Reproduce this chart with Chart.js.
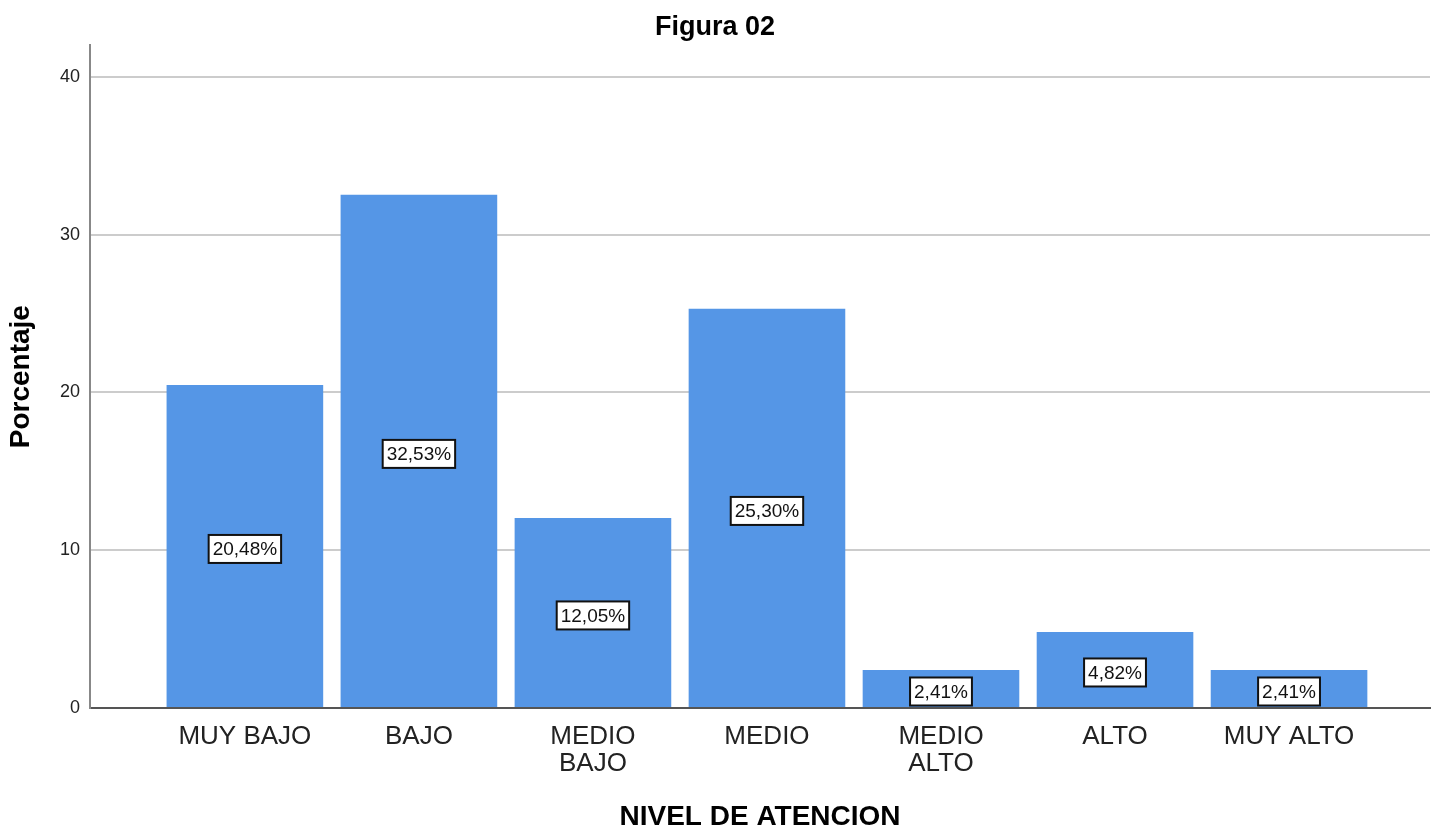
<!DOCTYPE html>
<html>
<head>
<meta charset="utf-8">
<script src="https://cdn.jsdelivr.net/npm/chart.js@4/dist/chart.umd.min.js"></script>
<style>
  html, body { margin: 0; padding: 0; background: #fff; }
  #wrap { width: 1448px; height: 834px; }
</style>
</head>
<body>
<div id="wrap"><canvas id="figChart"></canvas></div>
<script>
// datos
const categories = [['MUY BAJO'], ['BAJO'], ['MEDIO', 'BAJO'], ['MEDIO'], ['MEDIO', 'ALTO'], ['ALTO'], ['MUY ALTO']];
const percentages = [20.48, 32.53, 12.05, 25.30, 2.41, 4.82, 2.41];
const yTicks = [0, 10, 20, 30, 40];

const FONT = '"Liberation Sans", Arial, sans-serif';

// etiquetas blancas con borde negro en el centro de cada barra
const valueBoxes = {
    id: 'valueBoxes',
    afterDatasetsDraw(chart) {
        const ctx = chart.ctx;
        const meta = chart.getDatasetMeta(0);
        ctx.save();
        ctx.font = '19px ' + FONT;
        ctx.textAlign = 'center';
        ctx.textBaseline = 'middle';
        meta.data.forEach((bar, i) => {
            const txt = percentages[i].toFixed(2).replace('.', ',') + '%';
            const w = ctx.measureText(txt).width + 8;
            const h = 28;
            const cx = bar.x;
            const cy = (bar.y + bar.base) / 2 + 3;
            ctx.fillStyle = '#fff';
            ctx.fillRect(cx - w / 2, cy - h / 2, w, h);
            ctx.strokeStyle = '#111';
            ctx.lineWidth = 2;
            ctx.strokeRect(cx - w / 2, cy - h / 2, w, h);
            ctx.fillStyle = '#111';
            ctx.fillText(txt, cx, cy + 1);
        });
        ctx.restore();
    }
};

new Chart(document.getElementById('figChart'), {
    type: 'bar',
    data: {
        datasets: [{
            data: percentages.map((v, i) => ({ x: i, y: v })),
            backgroundColor: '#5596E6',
            borderWidth: 0,
            categoryPercentage: 1,
            barPercentage: 0.9
        }]
    },
    options: {
        responsive: true,
        maintainAspectRatio: false,
        animation: false,
        layout: { padding: { left: 0, right: 18, top: 0, bottom: 0 } },
        plugins: {
            legend: { display: false },
            tooltip: { enabled: false },
            title: {
                display: true,
                text: 'Figura 02',
                color: '#000',
                font: { family: FONT, size: 27, weight: 'bold', lineHeight: 1.2 },
                padding: { top: 11, bottom: 2 }
            }
        },
        scales: {
            x: {
                type: 'linear',
                offset: false,
                min: -0.89,
                max: 6.81,
                grid: { display: false, drawTicks: false },
                border: { display: true, color: '#555', width: 2 },
                ticks: {
                    stepSize: 1,
                    includeBounds: false,
                    autoSkip: false,
                    maxRotation: 0,
                    padding: 15,
                    color: '#222',
                    font: { family: FONT, size: 26, lineHeight: 1.05 },
                    callback: v => (Number.isInteger(v) && categories[v]) ? categories[v] : ''
                },
                title: {
                    display: true,
                    text: 'NIVEL DE ATENCION',
                    color: '#000',
                    font: { family: FONT, size: 28, weight: 'bold', lineHeight: 1.2 },
                    padding: { top: 0, bottom: 0 }
                },
                afterFit: s => { s.height = 126; }
            },
            y: {
                min: 0,
                max: 42,
                grid: { color: '#cccccc', lineWidth: 2, drawTicks: false },
                border: { display: true, color: '#888', width: 2 },
                afterBuildTicks: s => { s.ticks = yTicks.map(v => ({ value: v })); },
                ticks: {
                    padding: 10,
                    color: '#222',
                    font: { family: FONT, size: 18 }
                },
                title: {
                    display: true,
                    text: 'Porcentaje',
                    color: '#000',
                    font: { family: FONT, size: 28, weight: 'bold', lineHeight: 1.2 },
                    padding: { top: 4, bottom: 0 }
                },
                afterFit: s => { s.width = 90; }
            }
        }
    },
    plugins: [valueBoxes]
});
</script>
</body>
</html>
